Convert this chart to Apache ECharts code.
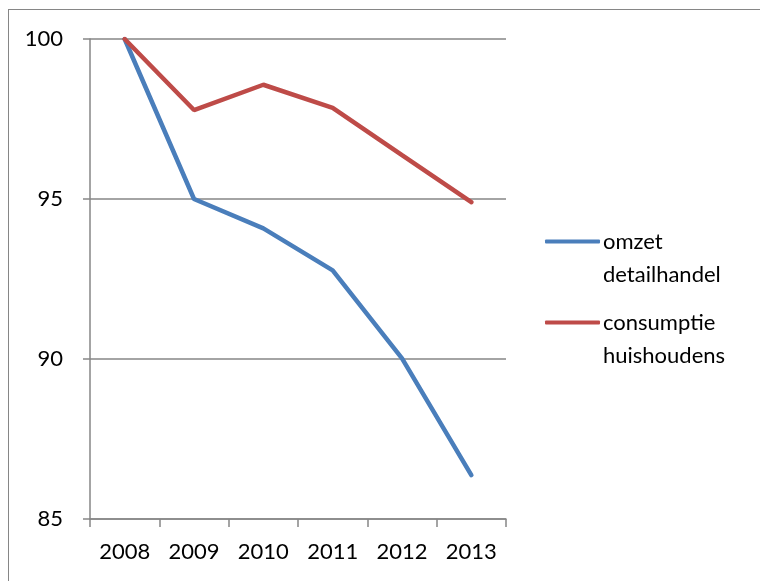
<!DOCTYPE html>
<html>
<head>
<meta charset="utf-8">
<script src="https://cdn.jsdelivr.net/npm/echarts@6/dist/echarts.min.js"></script>
<style>
  html, body { margin: 0; padding: 0; background: #fff; }
  #chart { width: 760px; height: 581px; }
</style>
</head>
<body>
<div id="chart"></div>
<script>
// jaren en indexcijfers (2008 = 100)
var years = ['2008', '2009', '2010', '2011', '2012', '2013'];
var omzet = [100, 95.0, 94.08, 92.77, 90.02, 86.37];
var consumptie = [100, 97.78, 98.57, 97.85, 96.37, 94.9];
var seriesNames = ['omzet\ndetailhandel', 'consumptie\nhuishoudens'];
var colors = ['#4a7ebb', '#be4b48'];

var chart = echarts.init(document.getElementById('chart'));
var font = 'Lato, "Open Sans", sans-serif';

// one legend per series; an empty first line puts the icon level with the first word
function legendFor(name, top) {
    return {
        orient: 'vertical',
        left: 540,
        top: top,
        itemWidth: 55,
        itemHeight: 4,
        icon: 'roundRect',
        formatter: function (n) { return ' \n' + n; },
        textStyle: {
            fontFamily: font,
            fontSize: 22,
            color: '#000',
            lineHeight: 33,
            padding: [0, 0, 0, -2]
        },
        data: [name]
    };
}

var option = {
    backgroundColor: '#fff',
    animation: false,
    color: colors,
    grid: {
        left: 90,
        right: 254,
        top: 39,
        bottom: 62
    },
    graphic: [
        { type: 'line', shape: { x1: 8.5, y1: 9, x2: 8.5, y2: 581 }, style: { stroke: '#868686', lineWidth: 1 } },
        { type: 'line', shape: { x1: 8, y1: 9.5, x2: 760, y2: 9.5 }, style: { stroke: '#868686', lineWidth: 1 } }
    ],
    legend: [
        legendFor(seriesNames[0], 187),
        legendFor(seriesNames[1], 268)
    ],
    xAxis: {
        type: 'category',
        data: years,
        boundaryGap: true,
        axisLine: { lineStyle: { color: '#868686', width: 1.5 } },
        axisTick: { show: true, length: 8, lineStyle: { color: '#868686', width: 1.5 } },
        axisLabel: { margin: 22, fontFamily: font, fontSize: 22, color: '#000' },
        splitLine: { show: false }
    },
    yAxis: {
        type: 'value',
        min: 85,
        max: 100,
        interval: 5,
        axisLine: { show: true, lineStyle: { color: '#868686', width: 1.5 } },
        axisTick: { show: true, length: 7, lineStyle: { color: '#868686', width: 1.5 } },
        axisLabel: { margin: 27, fontFamily: font, fontSize: 22, color: '#000' },
        splitLine: { show: true, lineStyle: { color: '#868686', width: 1.5 } }
    },
    series: [
        {
            name: seriesNames[0],
            type: 'line',
            data: omzet,
            symbol: 'none',
            lineStyle: { color: colors[0], width: 4.5, cap: 'round' }
        },
        {
            name: seriesNames[1],
            type: 'line',
            data: consumptie,
            symbol: 'none',
            lineStyle: { color: colors[1], width: 4.5, cap: 'round' }
        }
    ]
};

chart.setOption(option);
</script>
</body>
</html>
